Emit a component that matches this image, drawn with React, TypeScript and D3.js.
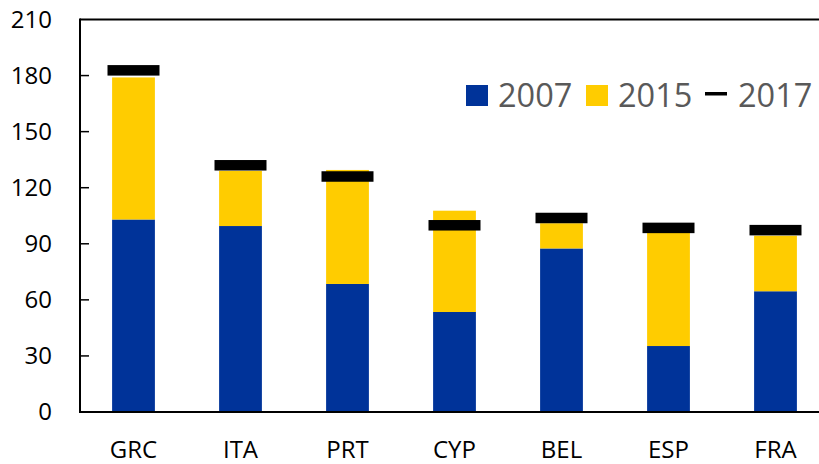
import React from "react";
import * as d3 from "d3";

// values
const categories = ["GRC", "ITA", "PRT", "CYP", "BEL", "ESP", "FRA"];
const values2007 = [103, 99.5, 68.5, 53.5, 87.5, 35.3, 64.6];
const values2015 = [179, 129, 129.5, 107.7, 101, 95.8, 94.3];
const values2017 = [182.8, 132, 126, 99.9, 103.8, 98.5, 97.3];
const yTicks = [0, 30, 60, 90, 120, 150, 180, 210];

const width = 819;
const height = 464;
const left = 80;
const top = 19.5;
const bottom = 412;
const blue = "#003399";
const yellow = "#FFCC00";
const font = "'Open Sans', 'Noto Sans', sans-serif";

const App = () => {
  const x = d3
    .scaleBand<string>()
    .domain(categories)
    .range([left, 829])
    .paddingInner(0.6)
    .paddingOuter(0.3);
  const y = d3.scaleLinear().domain([0, 210]).range([bottom, top]);

  const markerW = 52;
  const markerH = 10.5;

  return (
    <svg
      width={width}
      height={height}
      style={{ position: "absolute", left: 0, top: 0, background: "#fff" }}
      fontFamily={font}
    >
      {/* bars */}
      {categories.map((c, i) => (
        <g key={c}>
          <rect
            x={x(c)}
            y={y(values2007[i])}
            width={x.bandwidth()}
            height={y(0) - y(values2007[i])}
            fill={blue}
          />
          <rect
            x={x(c)}
            y={y(values2015[i])}
            width={x.bandwidth()}
            height={y(values2007[i]) - y(values2015[i])}
            fill={yellow}
          />
          <rect
            x={(x(c) as number) + x.bandwidth() / 2 - markerW / 2}
            y={y(values2017[i]) - markerH / 2}
            width={markerW}
            height={markerH}
            fill="#000"
          />
        </g>
      ))}

      {/* axes frame */}
      <line x1={left} x2={width} y1={top} y2={top} stroke="#000" strokeWidth={2} />
      <line x1={left} x2={left} y1={top - 1} y2={bottom + 1} stroke="#000" strokeWidth={2} />
      <line x1={left - 1} x2={width} y1={bottom} y2={bottom} stroke="#000" strokeWidth={2} />

      {yTicks.map((t) => (
        <g key={t}>
          {t > 0 && t < 210 && (
            <line x1={left} x2={left + 9} y1={y(t)} y2={y(t)} stroke="#000" strokeWidth={1.5} />
          )}
          <text
            x={52}
            y={y(t)}
            dy="0.35em"
            textAnchor="end"
            fontSize={24}
            fill="#000"
          >
            {t}
          </text>
        </g>
      ))}

      {categories.map((c) => (
        <text
          key={c}
          x={(x(c) as number) + x.bandwidth() / 2}
          y={458}
          textAnchor="middle"
          fontSize={24}
          fill="#000"
        >
          {c}
        </text>
      ))}

      {/* legend */}
      <g fontSize={32.5} fill="#595959">
        <rect x={466} y={85} width={22} height={21} fill={blue} />
        <text x={498} y={107}>2007</text>
        <rect x={586} y={85} width={22} height={21} fill={yellow} />
        <text x={618} y={107}>2015</text>
        <rect x={705} y={92} width={22} height={3.5} fill="#000" />
        <text x={738} y={107}>2017</text>
      </g>
    </svg>
  );
};

export default App;
